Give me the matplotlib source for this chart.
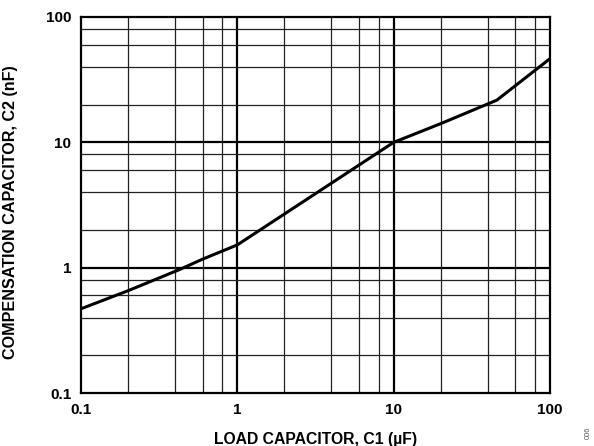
import matplotlib
matplotlib.use('Agg')
import matplotlib.pyplot as plt
import numpy as np

plt.rcParams['font.family'] = ['Liberation Sans', 'DejaVu Sans']

# load capacitor C1 (uF) vs compensation capacitor C2 (nF)
c1 = np.array([0.1, 0.2, 0.43, 0.6, 1.0, 2.0, 10.0, 20.0, 45.7, 100.0])
c2 = np.array([0.47, 0.655, 0.97, 1.17, 1.52, 2.68, 10.0, 14.1, 21.7, 46.5])

decades = [0.1, 1, 10, 100]
minor_steps = [2, 4, 6, 8]
tick_labels = ['0.1', '1', '10', '100']

fig = plt.figure(figsize=(5.94, 4.46), dpi=100)
ax = fig.add_axes([0.1364, 0.1188, 0.7895, 0.8431])
ax.set_xscale('log')
ax.set_yscale('log')
ax.set_xlim(0.1, 100)
ax.set_ylim(0.1, 100)

# grid: decades thicker, 2/4/6/8 thinner
for d in decades[1:-1]:
    ax.axvline(d, color='black', lw=1.6, zorder=1)
    ax.axhline(d, color='black', lw=1.6, zorder=1)
for d in decades[:-1]:
    for m in minor_steps:
        ax.axvline(d * m, color='#222222', lw=0.9, zorder=1)
        ax.axhline(d * m, color='#222222', lw=0.9, zorder=1)

ax.plot(c1, c2, color='black', lw=2.2, zorder=3, solid_joinstyle='miter')

ax.set_xticks(decades)
ax.set_xticklabels(tick_labels)
ax.set_yticks(decades)
ax.set_yticklabels(tick_labels)
ax.minorticks_off()
ax.tick_params(length=0, pad=7, labelsize=11)
for lab in ax.get_xticklabels() + ax.get_yticklabels():
    lab.set_fontweight('bold')

for s in ax.spines.values():
    s.set_linewidth(1.6)

ax.set_xlabel('LOAD CAPACITOR, C1 (µF)', fontsize=11.3, fontweight='bold', labelpad=11)
ax.set_ylabel('COMPENSATION CAPACITOR, C2 (nF)', fontsize=11.6, fontweight='bold', labelpad=12)
ax.yaxis.set_label_coords(-0.135, 0.48)

fig.text(0.984, 0.015, '006', rotation=90, fontsize=5.5, color='#555555',
         ha='left', va='bottom')

fig.savefig('out.png', dpi=100)
